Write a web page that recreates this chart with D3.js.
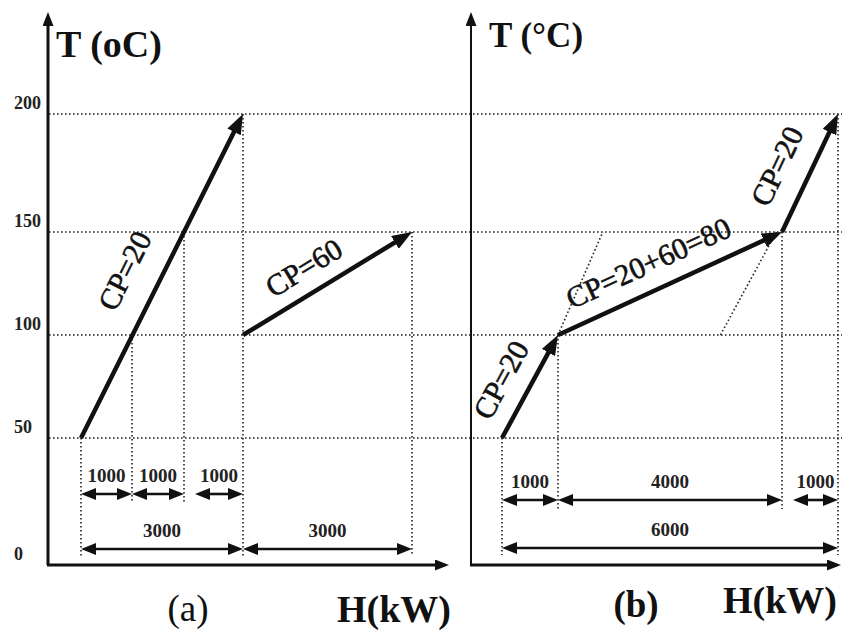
<!DOCTYPE html>
<html>
<head>
<meta charset="utf-8">
<script src="https://cdnjs.cloudflare.com/ajax/libs/d3/7.8.5/d3.min.js"></script>
<style>
body { margin: 0; background: #fff; }
svg { display: block; font-family: "Liberation Serif", "Times New Roman", serif; }
</style>
</head>
<body>
<div id="chart"></div>
<script>
// temperature levels (oC)
var tempTicks = [0, 50, 100, 150, 200];

// (a) streams drawn apart: [H start, T start, H end, T end]
var aStreams = [[0, 50, 3000, 200], [3000, 100, 6000, 150]];
var aNames = ["CP=20", "CP=60"];
// dotted drops from the curve to the H axis: [H, T]
var aDrops = [[0, 50], [1000, 100], [2000, 150], [3000, 200], [6000, 150]];
var aSpans1 = [[0, 1000], [1000, 2000], [2000, 3000]];
var aSpans2 = [[0, 3000], [3000, 6000]];

// (b) composite curve
var bStreams = [[0, 50, 1000, 100], [1000, 100, 5000, 150], [5000, 150, 6000, 200]];
var bNames = ["CP=20", "CP=20+60=80", "CP=20"];
var bGhosts = [[1000, 100, 1800, 150], [3900, 100, 4900, 150]];
var bDrops = [[0, 50], [1000, 100], [5000, 150], [6000, 200]];
var bSpans1 = [[0, 1000], [1000, 5000], [5000, 6000]];
var bSpans2 = [[0, 6000]];

var W = 842, H = 633;
var ink = "#111";

var svg = d3.select("#chart").append("svg")
    .attr("width", W)
    .attr("height", H);

// the scanned figure is not evenly spaced, so the scales are piecewise
var y = d3.scaleLinear().domain(tempTicks).range([565, 438, 335, 232, 114]);
var xA = d3.scaleLinear().domain([0, 1000, 2000, 3000, 6000]).range([81, 132, 184, 243, 412]);
var xB = d3.scaleLinear().domain([0, 6000]).range([502, 838]);

// markers
var defs = svg.append("defs");
function addMarker(id, len, half, cut) {
    defs.append("marker")
        .attr("id", id)
        .attr("viewBox", "0 " + (-half) + " " + len + " " + (2 * half))
        .attr("markerUnits", "userSpaceOnUse")
        .attr("markerWidth", len)
        .attr("markerHeight", 2 * half)
        .attr("refX", len - cut)
        .attr("refY", 0)
        .attr("orient", "auto-start-reverse")
      .append("path")
        .attr("d", "M0," + (-half) + "L" + len + ",0L0," + half + "Z")
        .attr("fill", ink);
}
addMarker("head", 20, 7.5, 11);
addMarker("dim", 15, 6, 8);
addMarker("axis", 14, 5.5, 8);

function shorten(p0, p1, s0, s1) {
    var dx = p1[0] - p0[0], dy = p1[1] - p0[1], L = Math.hypot(dx, dy);
    return [[p0[0] + dx / L * s0, p0[1] + dy / L * s0],
            [p1[0] - dx / L * s1, p1[1] - dy / L * s1]];
}

function arrow(g, p0, p1, mk, cut, both, width) {
    var p = shorten(p0, p1, both ? cut : 0, cut);
    var l = g.append("line")
        .attr("x1", p[0][0]).attr("y1", p[0][1])
        .attr("x2", p[1][0]).attr("y2", p[1][1])
        .attr("stroke", ink)
        .attr("stroke-width", width)
        .attr("marker-end", "url(#" + mk + ")");
    if (both) l.attr("marker-start", "url(#" + mk + ")");
}

function dotted(g, x1, y1, x2, y2) {
    g.append("line")
        .attr("x1", x1).attr("y1", y1)
        .attr("x2", x2).attr("y2", y2)
        .attr("stroke", "#222")
        .attr("stroke-width", 1.6)
        .attr("stroke-dasharray", "1.6,2.4");
}

// horizontal guides run across both panels
var grid = svg.append("g");
tempTicks.slice(1).forEach(function(t) {
    dotted(grid, 49, y(t), W, y(t));
});

function drawPanel(o) {
    var g = svg.append("g");
    var x = o.x;

    // drops: the ones that bound a lower span go further down
    o.drops.forEach(function(d) {
        var low = o.spans2.some(function(s) { return s[0] == d[0] || s[1] == d[0]; });
        dotted(g, x(d[0]), y(d[1]), x(d[0]), low ? o.row2 + 7 : o.row1 + 9);
    });
    (o.ghosts || []).forEach(function(d) {
        dotted(g, x(d[0]), y(d[1]), x(d[2]), y(d[3]));
    });

    // axes
    arrow(g, [o.axisX, y(0)], [o.axisX, 12], "axis", 8, false, o.axisW);
    arrow(g, [o.axisX - 1, y(0)], [o.xEnd, y(0)], "axis", 8, false, 3);

    // stream arrows and CP labels
    o.streams.forEach(function(s, i) {
        var p0 = [x(s[0]), y(s[1])], p1 = [x(s[2]), y(s[3])];
        arrow(g, p0, p1, "head", 11, false, 4.5);

        var dx = p1[0] - p0[0], dy = p1[1] - p0[1];
        var a = Math.atan2(dy, dx);
        var off = o.labelOff[i];
        var cx = (p0[0] + p1[0]) / 2 + Math.cos(a) * off[0] + Math.sin(a) * off[1];
        var cy = (p0[1] + p1[1]) / 2 + Math.sin(a) * off[0] - Math.cos(a) * off[1];
        g.append("text")
            .attr("transform", "translate(" + cx + "," + cy + ") rotate(" + (a * 180 / Math.PI) + ")")
            .attr("text-anchor", "middle")
            .attr("dy", "0.35em")
            .attr("font-size", 30)
            .attr("fill", ink)
            .attr("stroke", ink)
            .attr("stroke-width", 0.6)
            .text(o.names[i]);
    });

    // heat-load spans; the last upper one starts a little late, as drawn
    [[o.spans1, o.row1], [o.spans2, o.row2]].forEach(function(r, k) {
        r[0].forEach(function(s, i) {
            var x0 = x(s[0]) + (k == 0 && i == 2 ? 11 : 0);
            arrow(g, [x0, r[1]], [x(s[1]), r[1]], "dim", 8, true, 2.6);
            g.append("text")
                .attr("x", (x0 + x(s[1])) / 2)
                .attr("y", r[1] - 12)
                .attr("text-anchor", "middle")
                .attr("font-size", 19)
                .attr("font-weight", "bold")
                .attr("fill", "#222")
                .text(s[1] - s[0]);
        });
    });
    return g;
}

var gA = drawPanel({
    x: xA, streams: aStreams, names: aNames, drops: aDrops,
    spans1: aSpans1, spans2: aSpans2,
    axisX: 48, axisW: 3, xEnd: 449, row1: 494, row2: 549,
    labelOff: [[-12, 36], [-12, 26]]
});
var gB = drawPanel({
    x: xB, streams: bStreams, names: bNames, drops: bDrops, ghosts: bGhosts,
    spans1: bSpans1, spans2: bSpans2,
    axisX: 471, axisW: 2, xEnd: 841, row1: 500, row2: 548,
    labelOff: [[-8, 29], [-11, 28], [-8, 33]]
});

// temperature labels on the left axis
svg.append("g").selectAll("text")
    .data(tempTicks)
    .enter().append("text")
    .attr("x", 14)
    .attr("y", function(d) { return y(d) - 5; })
    .attr("font-size", 18)
    .attr("font-weight", "bold")
    .attr("fill", "#222")
    .text(function(d) { return d; });

// titles
function label(txt, x, yy, size, weight, anchor) {
    svg.append("text")
        .attr("x", x).attr("y", yy)
        .attr("font-size", size)
        .attr("font-weight", weight)
        .attr("text-anchor", anchor || "start")
        .attr("fill", ink)
        .text(txt);
}
label("T (oC)", 56, 57, 38, "bold");
label("T (\u00B0C)", 489, 47, 35, "bold");
label("H(kW)", 337, 622, 38, "bold");
label("H(kW)", 723, 613, 38, "bold");
label("(a)", 188, 621, 37, "normal", "middle");
label("(b)", 636, 617, 37, "bold", "middle");
</script>
</body>
</html>
